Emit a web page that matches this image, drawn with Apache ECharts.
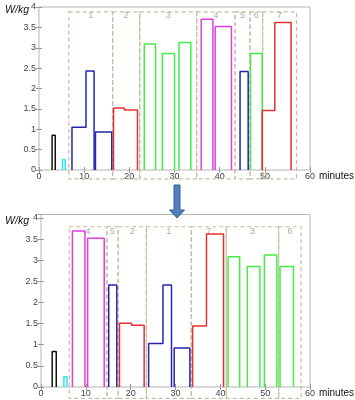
<!DOCTYPE html>
<html style="height: 100%">
<head>
<meta charset="utf-8">
</head>
<body style="height: 100%; margin: 0; background: #fff">
<div id="container" style="width:355px;height:400px;"></div>
<script src="https://cdn.jsdelivr.net/npm/echarts@6/dist/echarts.min.js"></script>
<script type="text/javascript">
// each group: [colour, step times (minutes), levels (W/kg)]
var beforeGroups = [
    ['black',   [2.9, 3.6],         [0.85]],
    ['cyan',    [5.2, 5.8],         [0.25]],
    ['blue',    [7.3, 10.4, 12.2],  [1.05, 2.43]],
    ['blue',    [12.5, 16.1],       [0.93]],
    ['red',     [16.5, 18.9, 21.8], [1.52, 1.47]],
    ['green',   [23.3, 25.8],       [3.09]],
    ['green',   [27.3, 30.0],       [2.86]],
    ['green',   [31.0, 33.6],       [3.13]],
    ['magenta', [35.9, 38.5],       [3.70]],
    ['magenta', [39.0, 42.6],       [3.52]],
    ['blue',    [44.5, 46.3],       [2.42]],
    ['green',   [46.8, 49.4],       [2.86]],
    ['red',     [49.4, 52.2, 55.8], [1.46, 3.62]]
];
var afterGroups = [
    ['black',   [2.5, 3.4],         [0.84]],
    ['cyan',    [5.1, 5.8],         [0.24]],
    ['magenta', [7.0, 9.8],         [3.69]],
    ['magenta', [10.4, 14.1],       [3.52]],
    ['blue',    [15.1, 16.9],       [2.41]],
    ['red',     [17.5, 20.2, 23.0], [1.51, 1.46]],
    ['blue',    [24.0, 27.2, 29.1], [1.03, 2.41]],
    ['blue',    [29.7, 33.2],       [0.92]],
    ['red',     [33.8, 36.9, 40.7], [1.44, 3.62]],
    ['green',   [41.7, 44.3],       [3.08]],
    ['green',   [46.0, 48.8],       [2.85]],
    ['green',   [49.8, 52.6],       [3.12]],
    ['green',   [53.3, 56.3],       [2.85]]
];
var beforeBoxEdges = [6.6, 16.3, 22.3, 34.9, 43.4, 46.7, 49.5, 57.0];
var beforeBoxLabels = ['1', '2', '3', '4', '5', '6', '7'];
var afterBoxEdges = [6.3, 14.7, 17.2, 23.5, 33.5, 41.3, 53.0, 58.0];
var afterBoxLabels = ['4', '5', '2', '1', '7', '3', '6'];
var beforeBoxRange = [-0.22, 3.88, 3.79];   // bottom, top, label level (W/kg)
var afterBoxRange = [-0.27, 3.79, 3.67];
var beforeYMax = 4;
var afterYMax = 4.08;

var palette = {
    black: '#111111',
    cyan: '#30e4f0',
    blue: '#2424b0',
    red: '#e23030',
    green: '#45ec45',
    magenta: '#e03ee0'
};

var dom = document.getElementById("container");
var myChart = echarts.init(dom);
var option = null;

function outline(t, h) {
    var pts = [[t[0], 0]];
    for (var i = 0; i < h.length; i++) {
        pts.push([t[i], h[i]]);
        pts.push([t[i + 1], h[i]]);
    }
    pts.push([t[t.length - 1], 0]);
    return pts;
}

var tickFont = { fontSize: 9, color: '#444', fontFamily: 'Liberation Sans' };
var tickStyle = { inside: true, length: 3, lineStyle: { color: '#999' } };

function xAxes(gi) {
    return [{
        gridIndex: gi, type: 'value', min: 0, max: 60, interval: 10,
        axisLine: { show: false }, splitLine: { show: false },
        axisTick: tickStyle,
        axisLabel: Object.assign({ margin: 2 }, tickFont),
        name: 'minutes', nameLocation: 'end', nameGap: 8,
        nameTextStyle: { fontSize: 10, color: '#111', fontFamily: 'Liberation Sans', verticalAlign: 'top', padding: [1, 0, 0, 0] }
    }, {
        gridIndex: gi, type: 'value', min: 0, max: 60, interval: 10, position: 'top',
        axisLine: { show: false }, splitLine: { show: false }, axisLabel: { show: false },
        axisTick: tickStyle
    }];
}
function yAxes(gi, ymax, labelLift) {
    return [{
        gridIndex: gi, type: 'value', min: 0, max: ymax, interval: 0.5,
        axisLine: { show: false }, splitLine: { show: false },
        axisTick: Object.assign({ show: true }, tickStyle),
        axisLabel: Object.assign({ margin: 3, padding: [0, 0, labelLift, 0] }, tickFont)
    }, {
        gridIndex: gi, type: 'value', min: 0, max: ymax, interval: 0.5, position: 'right',
        axisLine: { show: false }, splitLine: { show: false }, axisLabel: { show: false },
        axisTick: Object.assign({ show: true }, tickStyle)
    }];
}

var series = [];
function addChart(groups, edges, labels, range, gi) {
    groups.forEach(function (g) {
        series.push({
            type: 'line', xAxisIndex: gi * 2, yAxisIndex: gi * 2,
            data: outline(g[1], g[2]), showSymbol: false, silent: true,
            lineStyle: { color: palette[g[0]], width: 1.5 }
        });
    });
    var boxes = [];
    for (var i = 0; i < labels.length; i++) boxes.push([edges[i], edges[i + 1], range[1]]);
    series.push({
        type: 'custom', xAxisIndex: gi * 2, yAxisIndex: gi * 2, silent: true,
        encode: { x: [0, 1], y: 2 },
        data: boxes,
        renderItem: function (params, api) {
            var x0 = api.value(0), x1 = api.value(1);
            var p0 = api.coord([x0, range[1]]);
            var p1 = api.coord([x1, range[0]]);
            var pl = api.coord([(x0 + x1) / 2, range[2]]);
            return {
                type: 'group',
                children: [{
                    type: 'rect',
                    shape: { x: p0[0], y: p0[1], width: p1[0] - p0[0], height: p1[1] - p0[1] },
                    style: { fill: 'none', stroke: '#c9bca4', lineWidth: 1.2, lineDash: [4, 3] }
                }, {
                    type: 'text', x: pl[0], y: pl[1],
                    style: { text: labels[params.dataIndex], fill: '#aaa', fontSize: 9, fontFamily: 'Liberation Sans', align: 'center', verticalAlign: 'middle' }
                }]
            };
        }
    });
}
addChart(beforeGroups, beforeBoxEdges, beforeBoxLabels, beforeBoxRange, 0);
addChart(afterGroups, afterBoxEdges, afterBoxLabels, afterBoxRange, 1);

var xa = xAxes(0).concat(xAxes(1));
var ya = yAxes(0, beforeYMax, 0).concat(yAxes(1, afterYMax, 6));

var unitStyle = { text: 'W/kg', fontSize: 10.5, fontStyle: 'italic', fill: '#111', fontFamily: 'Liberation Sans', align: 'right', verticalAlign: 'middle' };

option = {
    animation: false,
    grid: [
        { left: 39, right: 43, top: 7, height: 163, show: true, borderColor: '#b5b5b5', borderWidth: 1 },
        { left: 41, right: 44, top: 214.5, height: 172.5, show: true, borderColor: '#b5b5b5', borderWidth: 1 }
    ],
    xAxis: xa,
    yAxis: ya,
    series: series,
    graphic: [{
        type: 'polygon',
        shape: { points: [[174, 185], [180, 185], [180, 210], [184.5, 210], [177, 218], [169.5, 210], [174, 210]] },
        style: { fill: '#4f81bd', stroke: '#385d8a', lineWidth: 1 }
    }, {
        type: 'text', x: 29, y: 10, style: unitStyle
    }, {
        type: 'text', x: 29, y: 221, style: unitStyle
    }]
};
if (option && typeof option === "object") {
    myChart.setOption(option, true);
}
</script>
</body>
</html>
